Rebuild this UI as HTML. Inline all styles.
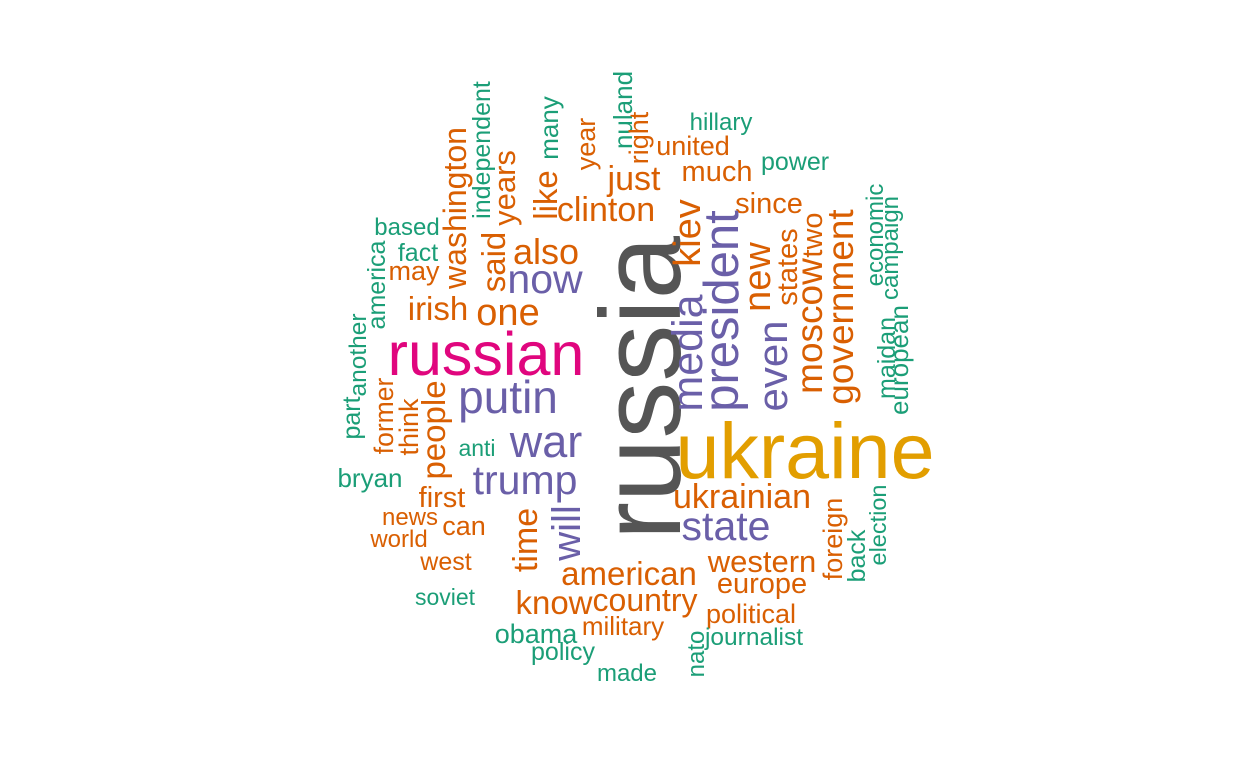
<!DOCTYPE html>
<html><head><meta charset="utf-8"><style>
html,body{margin:0;padding:0;background:#fff;width:1259px;height:778px;overflow:hidden}
svg{display:block}
text{font-family:"Liberation Sans",Arial,sans-serif}
</style></head><body>
<svg id="cloud" width="1259" height="778" viewBox="0 0 1259 778"></svg>
<script>
// words, frequencies-as-font-size, color group, orientation
const words = ["russia","ukraine","russian","putin","war","trump","now","also","one","irish","clinton","just","much","united","hillary","power","since","based","fact","may","anti","bryan","first","news","world","can","west","soviet","american","western","europe","know","country","military","political","journalist","obama","policy","made","ukrainian","state","president","media","kiev","even","new","states","two","moscow","government","economic","campaign","maidan","european","foreign","back","election","nato","will","time","people","think","former","part","another","america","washington","independent","said","years","like","many","year","nuland","right"];
const sizes = [114,79,61,46,45,41,41,36,38,33,34,34,29,27,24,25,29,24,25,27,23,26,29,24,24,27,25,23,33,31,29,33,32,26,27,24.5,27,25,24,34,41,49,43,38,42,38,29,29,37,37,24,24,25,26,27,25,23.5,24,40,34,33,27,26.5,25,24.5,25,32,25,33,31,33,26,27,26,27];
const groups = [5,4,3,2,2,2,2,1,1,1,1,1,1,1,0,0,1,0,0,1,0,0,1,1,1,1,1,0,1,1,1,1,1,1,1,0,0,0,0,1,2,2,2,1,2,1,1,1,1,1,0,0,0,0,1,0,0,0,2,1,1,1,1,0,0,0,1,0,1,1,1,0,1,0,1];
const vertical = [1,0,0,0,0,0,0,0,0,0,0,0,0,0,0,0,0,0,0,0,0,0,0,0,0,0,0,0,0,0,0,0,0,0,0,0,0,0,0,0,0,1,1,1,1,1,1,1,1,1,1,1,1,1,1,1,1,1,1,1,1,1,1,1,1,1,1,1,1,1,1,1,1,1,1];
// layout placement (center along text, baseline)
const posA = [388,805,486,508,546,525,545,546,508,438,606,634,717,693,721,795,769,407,418,414,477,370,442,410,399,464,446,445,629,762,762,554,645,623,751,754,536,563,627,742,726,311,353,233,366,277,267,235,326,307,235,248,358,360,539,556,525,654,533,540,430,427,416,418,355,285,208,150,262,188,195,128,144,110,138];
const posB = [680,478,375,413,457,494,293,264,325,320,221,190,181,155,130,170,213,235,261,280,456,487,507,525,547,535,570,605,585,572,593,614,611,635,623,645,643,660,681,508,540,738,702,700,787,770,797,822,822,853,883,898,895,908,842,865,886,704,580,537,445,418,393,360,366,385,466,490,505,515,557,558,595,632,648];
const palette = ["#1b9e77","#d95f02","#6a5fa8","#e0067e","#e29e00","#555555"];
const svg = document.getElementById('cloud');
const NS = "http://www.w3.org/2000/svg";
for (let i = 0; i < words.length; i++) {
  const t = document.createElementNS(NS, 'text');
  
  
  t.setAttribute('text-anchor', 'middle');
  t.setAttribute('font-size', sizes[i]);
  t.setAttribute('fill', palette[groups[i]]);
  if (vertical[i]) {
    t.setAttribute('transform', 'translate(' + posB[i] + ',' + posA[i] + ') rotate(-90)');
  } else {
    t.setAttribute('x', posA[i]);
    t.setAttribute('y', posB[i]);
  }
  t.textContent = words[i];
  svg.appendChild(t);
}
</script>
</body></html>
